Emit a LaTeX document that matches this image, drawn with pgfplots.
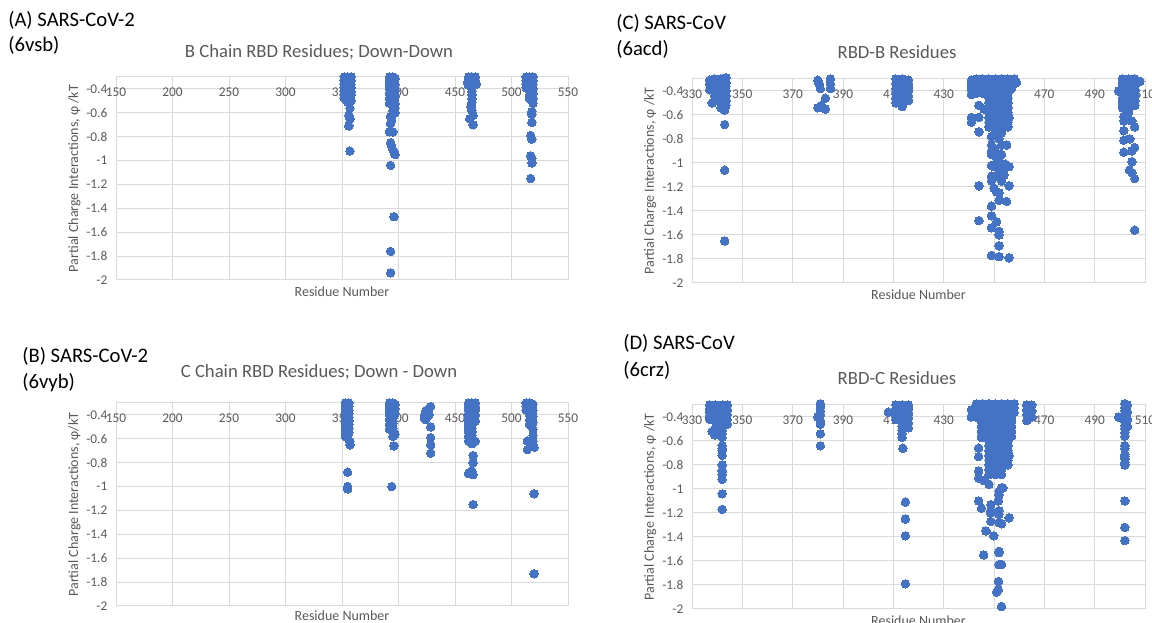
\documentclass[border=0pt]{standalone}
\usepackage{fontspec}
\setmainfont{Carlito}
\usepackage{pgfplots}
\pgfplotsset{compat=1.18}
\usepackage{pgfplotstable}
\definecolor{mblue}{HTML}{4472C4}
\definecolor{tgray}{HTML}{595959}
\definecolor{ggray}{HTML}{D9D9D9}

\pgfplotstableread[row sep=\\]{x y\\
352 -0.30\\352 -0.33\\352 -0.36\\352 -0.39\\352 -0.42\\352 -0.45\\352 -0.48\\
355 -0.30\\355 -0.33\\355 -0.36\\355 -0.39\\355 -0.42\\355 -0.45\\355 -0.48\\355 -0.51\\
358 -0.30\\358 -0.33\\358 -0.36\\358 -0.39\\358 -0.42\\358 -0.45\\358 -0.50\\
357 -0.56\\356 -0.62\\357 -0.65\\356 -0.71\\357 -0.92\\
392 -0.30\\392 -0.33\\392 -0.36\\392 -0.40\\392 -0.44\\392 -0.48\\392 -0.52\\
395 -0.30\\395 -0.34\\395 -0.38\\395 -0.42\\395 -0.46\\395 -0.50\\395 -0.54\\395 -0.58\\
397 -0.31\\397 -0.36\\397 -0.41\\397 -0.46\\397 -0.52\\397 -0.56\\397 -0.60\\
393 -0.63\\394 -0.66\\393 -0.69\\392 -0.76\\395 -0.76\\393 -0.85\\394 -0.88\\395 -0.91\\396 -0.93\\397 -0.95\\393 -1.04\\396 -1.47\\393 -1.76\\393 -1.94\\
461 -0.35\\462 -0.30\\462 -0.33\\462 -0.37\\
465 -0.30\\465 -0.33\\465 -0.36\\465 -0.39\\465 -0.42\\465 -0.45\\465 -0.48\\465 -0.51\\
468 -0.30\\468 -0.33\\469 -0.36\\
464 -0.55\\465 -0.58\\466 -0.62\\463 -0.65\\466 -0.70\\
513 -0.30\\513 -0.33\\513 -0.36\\513 -0.39\\
516 -0.30\\516 -0.33\\516 -0.36\\516 -0.39\\516 -0.42\\516 -0.45\\516 -0.48\\
519 -0.30\\519 -0.33\\519 -0.36\\519 -0.40\\519 -0.44\\519 -0.48\\519 -0.52\\
518 -0.59\\518 -0.61\\518 -0.68\\517 -0.79\\518 -0.82\\517 -0.96\\518 -0.98\\518 -1.02\\517 -1.15\\
}\dataA

\pgfplotstableread[row sep=\\]{x y\\
353 -0.30\\353 -0.33\\353 -0.36\\353 -0.39\\353 -0.42\\353 -0.45\\353 -0.48\\353 -0.51\\353 -0.55\\353 -0.58\\
356 -0.30\\356 -0.33\\356 -0.36\\356 -0.39\\356 -0.42\\356 -0.45\\356 -0.48\\356 -0.51\\356 -0.55\\
357 -0.62\\357 -0.65\\355 -0.88\\355 -1.00\\355 -1.02\\
392 -0.30\\392 -0.33\\392 -0.36\\392 -0.40\\392 -0.44\\392 -0.48\\392 -0.52\\
395 -0.30\\395 -0.33\\395 -0.36\\395 -0.39\\395 -0.43\\395 -0.47\\395 -0.51\\395 -0.55\\395 -0.58\\
397 -0.31\\397 -0.35\\397 -0.39\\397 -0.56\\
396 -0.66\\394 -1.00\\
423 -0.40\\424 -0.37\\425 -0.36\\426 -0.38\\423 -0.43\\425 -0.42\\427 -0.40\\424 -0.44\\
428.5 -0.33\\428.5 -0.50\\428.5 -0.59\\428.5 -0.65\\428.5 -0.72\\
462 -0.30\\462 -0.33\\462 -0.36\\462 -0.39\\462 -0.42\\462 -0.45\\462 -0.48\\462 -0.51\\462 -0.54\\462 -0.58\\462 -0.62\\
465 -0.30\\465 -0.33\\465 -0.36\\465 -0.39\\465 -0.42\\465 -0.45\\465 -0.48\\465 -0.51\\465 -0.54\\465 -0.57\\465 -0.60\\465 -0.64\\
468 -0.30\\468 -0.33\\468 -0.36\\468 -0.40\\468 -0.45\\468 -0.62\\
466 -0.74\\466 -0.80\\463 -0.88\\465 -0.87\\466 -0.90\\462 -0.89\\466 -1.15\\
513 -0.30\\513 -0.33\\513 -0.36\\
516 -0.30\\516 -0.33\\516 -0.36\\516 -0.40\\516 -0.44\\516 -0.48\\
519 -0.31\\519 -0.36\\519 -0.41\\519 -0.46\\519 -0.52\\519 -0.57\\519 -0.62\\519 -0.66\\
514 -0.62\\514 -0.69\\520 -0.67\\520 -1.06\\520 -1.73\\
}\dataB

\pgfplotstableread[row sep=\\]{x y\\
337 -0.31\\337 -0.34\\337 -0.39\\338 -0.50\\
339 -0.30\\339 -0.33\\339 -0.36\\339 -0.40\\339 -0.44\\
341.5 -0.30\\341.5 -0.33\\341.5 -0.36\\341.5 -0.39\\341.5 -0.42\\341.5 -0.45\\341.5 -0.48\\341.5 -0.51\\341.5 -0.54\\
343.5 -0.29\\343.5 -0.33\\343.5 -0.36\\343.5 -0.40\\343.5 -0.44\\343.5 -0.48\\343.5 -0.52\\343 -0.56\\
343 -0.68\\343 -1.06\\343 -1.65\\
380 -0.31\\381 -0.38\\380.5 -0.34\\385 -0.30\\385 -0.34\\385 -0.38\\383 -0.46\\380 -0.54\\381.4 -0.52\\383 -0.55\\
411 -0.30\\411 -0.34\\411 -0.38\\411 -0.42\\411 -0.46\\411 -0.50\\
413.5 -0.30\\413.5 -0.33\\413.5 -0.36\\413.5 -0.39\\413.5 -0.42\\413.5 -0.45\\413.5 -0.48\\413.5 -0.51\\413.5 -0.53\\
416 -0.31\\416 -0.34\\416 -0.37\\416 -0.40\\416 -0.44\\416 -0.48\\
443 -0.30\\445.5 -0.30\\448 -0.30\\450.5 -0.30\\453 -0.30\\455.5 -0.30\\458 -0.30\\
443 -0.34\\445.5 -0.34\\448 -0.34\\450.5 -0.34\\453 -0.34\\455.5 -0.34\\458 -0.34\\
443 -0.38\\445.5 -0.38\\448 -0.38\\450.5 -0.38\\453 -0.38\\455.5 -0.38\\457 -0.38\\
443 -0.42\\445.5 -0.42\\448 -0.42\\450.5 -0.42\\453 -0.42\\455.5 -0.42\\
448 -0.46\\450.5 -0.46\\453 -0.46\\455.5 -0.46\\
448 -0.50\\450.5 -0.50\\453 -0.50\\455.5 -0.50\\
448 -0.54\\450.5 -0.54\\453 -0.54\\455.5 -0.54\\
448 -0.58\\450.5 -0.58\\453 -0.58\\455.5 -0.58\\
448 -0.62\\450.5 -0.62\\453 -0.62\\456 -0.62\\
448 -0.66\\450.5 -0.66\\453 -0.66\\455.5 -0.66\\
448 -0.70\\450.5 -0.70\\453 -0.70\\455.5 -0.70\\
441 -0.31\\441 -0.35\\441 -0.39\\441 -0.43\\441 -0.62\\441 -0.66\\444 -0.52\\444 -0.62\\444 -0.74\\444 -1.19\\444 -1.48\\446 -0.55\\459 -0.33\\
449 -0.78\\449 -0.85\\449 -0.90\\449 -0.93\\452 -0.80\\453 -0.85\\455 -0.85\\451 -0.92\\452 -0.99\\449 -1.02\\450 -1.03\\453 -1.03\\454.5 -1.01\\456 -1.03\\
452 -1.06\\453.5 -1.06\\449 -1.11\\449 -1.15\\453 -1.15\\456 -1.19\\450 -1.21\\451 -1.24\\452 -1.25\\452 -1.31\\455 -1.32\\449 -1.36\\449 -1.44\\451 -1.49\\
449 -1.54\\452 -1.57\\452 -1.60\\452 -1.69\\449 -1.77\\452 -1.78\\456 -1.79\\451 -1.11\\454 -1.10\\451 -0.96\\450.5 -0.74\\453 -0.75\\450 -0.88\\453 -0.93\\
501 -0.30\\501 -0.34\\501 -0.38\\501 -0.42\\501 -0.46\\501 -0.50\\501 -0.54\\
503.5 -0.30\\503.5 -0.33\\503.5 -0.36\\503.5 -0.39\\503.5 -0.42\\503.5 -0.45\\503.5 -0.48\\503.5 -0.51\\503.5 -0.55\\503.5 -0.58\\
506 -0.30\\506 -0.33\\506 -0.36\\506 -0.40\\506 -0.44\\506 -0.48\\506 -0.52\\
508 -0.32\\499.5 -0.40\\
501.6 -0.61\\501.6 -0.65\\504.8 -0.65\\505.9 -0.70\\501.6 -0.73\\501.6 -0.81\\504 -0.80\\505.9 -0.87\\504.8 -0.90\\501.6 -0.91\\504.8 -0.99\\503.8 -1.06\\504.8 -1.08\\505.9 -1.13\\505.9 -1.56\\
}\dataC

\pgfplotstableread[row sep=\\]{x y\\
337 -0.30\\337 -0.33\\337 -0.36\\337 -0.39\\337 -0.42\\338 -0.52\\
339.5 -0.30\\339.5 -0.33\\339.5 -0.36\\339.5 -0.39\\339.5 -0.42\\339.5 -0.45\\339.5 -0.48\\339 -0.55\\
342 -0.30\\342 -0.33\\342 -0.36\\342 -0.39\\342 -0.42\\342 -0.45\\342 -0.48\\342 -0.51\\342 -0.54\\342 -0.57\\
344 -0.30\\344 -0.34\\344 -0.38\\344 -0.42\\344 -0.46\\
342 -0.64\\342 -0.66\\342 -0.68\\342 -0.72\\342 -0.80\\342 -0.85\\342 -0.88\\342 -0.92\\342 -1.04\\342 -1.17\\
381 -0.29\\381 -0.32\\381 -0.35\\381 -0.38\\380 -0.40\\381 -0.43\\381 -0.46\\381 -0.54\\381 -0.64\\
408 -0.36\\
411 -0.30\\411 -0.33\\411 -0.36\\411 -0.39\\411 -0.42\\
413.5 -0.30\\413.5 -0.33\\413.5 -0.36\\413.5 -0.39\\413.5 -0.42\\413.5 -0.45\\413.5 -0.48\\413.5 -0.51\\413.5 -0.54\\413.5 -0.57\\
416 -0.30\\416 -0.33\\416 -0.37\\416 -0.41\\416 -0.45\\416 -0.49\\
413.8 -0.66\\414.8 -1.11\\414.8 -1.25\\414.8 -1.39\\414.8 -1.79\\
443 -0.29\\445.5 -0.29\\448 -0.29\\450.5 -0.29\\453 -0.29\\455.5 -0.29\\458 -0.29\\
443 -0.32\\445.5 -0.32\\448 -0.32\\450.5 -0.32\\453 -0.32\\455.5 -0.32\\458 -0.32\\
443 -0.36\\445.5 -0.36\\448 -0.36\\450.5 -0.36\\453 -0.36\\455.5 -0.36\\458 -0.36\\
443 -0.40\\445.5 -0.40\\448 -0.40\\450.5 -0.40\\453 -0.40\\455.5 -0.40\\457 -0.40\\
445 -0.44\\447.5 -0.44\\450 -0.44\\452.5 -0.44\\455 -0.44\\457 -0.44\\
445 -0.48\\447.5 -0.48\\450 -0.48\\452.5 -0.48\\455 -0.48\\457 -0.48\\
445 -0.52\\447.5 -0.52\\450 -0.52\\452.5 -0.52\\455 -0.52\\457 -0.52\\
445 -0.56\\447.5 -0.56\\450 -0.56\\452.5 -0.56\\455 -0.56\\457 -0.56\\
448 -0.60\\450.5 -0.60\\453 -0.60\\455.5 -0.60\\
448 -0.64\\450.5 -0.64\\453 -0.64\\455.5 -0.64\\
448 -0.68\\450.5 -0.68\\453 -0.68\\455.5 -0.68\\
448 -0.72\\450.5 -0.72\\453 -0.72\\456 -0.72\\
448 -0.76\\450.5 -0.76\\453 -0.76\\455.5 -0.76\\
448 -0.80\\450.5 -0.80\\453 -0.80\\455.5 -0.80\\
448 -0.84\\450.5 -0.84\\453 -0.84\\
448 -0.88\\450.5 -0.88\\453 -0.88\\
441 -0.34\\441 -0.40\\443.9 -0.66\\443.9 -0.73\\443.9 -0.85\\443.9 -0.91\\445 -0.57\\446 -0.93\\448 -0.96\\443.9 -1.10\\445 -1.16\\446.8 -1.35\\445.9 -1.55\\
452.9 -0.99\\453.5 -0.99\\452 -1.05\\451.7 -1.10\\448.7 -1.13\\448.7 -1.18\\452 -1.18\\452 -1.21\\448.7 -1.27\\452 -1.28\\453 -1.29\\456 -1.24\\449.9 -1.39\\
452 -1.52\\452 -1.53\\452 -1.63\\453 -1.63\\451.8 -1.77\\451 -1.86\\451.7 -1.84\\453 -1.98\\448.7 -1.20\\452 -1.02\\
463 -0.30\\465 -0.30\\463 -0.34\\465 -0.35\\463 -0.38\\465 -0.40\\463 -0.43\\
502 -0.29\\502 -0.32\\502 -0.35\\502 -0.38\\502 -0.41\\502 -0.44\\502 -0.47\\502 -0.50\\502 -0.53\\502 -0.56\\
503 -0.30\\503 -0.36\\503 -0.42\\503 -0.48\\499.5 -0.40\\501 -0.41\\
502 -0.64\\502 -0.66\\502 -0.71\\502 -0.73\\502 -0.75\\502 -0.78\\502 -0.80\\502 -1.10\\502 -1.32\\502 -1.43\\
}\dataD

\pgfplotsset{
 rbd/.style={
  scale only axis,
  ymin=-2, ymax=-0.3,
  ytick={-2,-1.8,-1.6,-1.4,-1.2,-1,-0.8,-0.6,-0.4},
  grid=major,
  grid style={ggray, line width=0.75pt},
  axis line style={ggray, line width=0.75pt},
  major tick length=0pt,
  xticklabel pos=upper,
  xticklabel style={anchor=center, yshift=-11.25pt, font=\fontsize{10}{11}\selectfont, text=tgray},
  yticklabel style={font=\fontsize{10}{11}\selectfont, text=tgray, xshift=-3pt},
  /pgf/number format/assume math mode=true,
  /pgf/number format/fixed,
  /pgf/number format/precision=1,
  xlabel style={at={(axis description cs:0.5,0)}, anchor=center, yshift=-9pt, font=\fontsize{10.5}{12}\selectfont, text=tgray},
  ylabel style={at={(axis description cs:-0.092,0.5)}, anchor=center, font=\fontsize{10.5}{12}\selectfont, text=tgray},
  clip=false,
  xlabel={Residue Number},
 },
 dots/.style={only marks, mark=*, mark size=3.2pt, mark options={fill=mblue, draw=mblue, line width=0pt}},
}

\begin{document}
\begin{tikzpicture}[x=0.75pt,y=0.75pt]
% Panel A
\begin{axis}[rbd, at={(87pt,409.5pt)}, anchor=north west, width=339pt, height=152.25pt,
  xmin=150, xmax=550, xtick={150,200,250,300,350,400,450,500,550},
  ylabel={Partial Charge Interactions, φ /kT}]
\addplot[dots] table {\dataA};
\end{axis}
% Panel B
\begin{axis}[rbd, at={(87pt,165pt)}, anchor=north west, width=339pt, height=152.25pt,
  xmin=150, xmax=550, xtick={150,200,250,300,350,400,450,500,550},
  xlabel style={yshift=1.5pt},
  ylabel={Partial Charge Interactions, φ/kT}]
\addplot[dots] table {\dataB};
\end{axis}
% Panel C
\begin{axis}[rbd, at={(519pt,408pt)}, anchor=north west, width=339.75pt, height=153pt,
  xmin=330, xmax=510, xtick={330,350,370,390,410,430,450,470,490,510},
  ylabel={Partial Charge Interactions, φ /kT}]
\addplot[dots] table {\dataC};
\end{axis}
% Panel D
\begin{axis}[rbd, at={(519pt,163.5pt)}, anchor=north west, width=339.75pt, height=153pt,
  xmin=330, xmax=510, xtick={330,350,370,390,410,430,450,470,490,510},
  ylabel={Partial Charge Interactions, φ /kT}]
\addplot[dots] table {\dataD};
\end{axis}

% Titles
\node[font=\fontsize{14}{16}\selectfont, text=tgray] at (319,571) {B Chain RBD Residues; Down-Down};
\node[font=\fontsize{14}{16}\selectfont, text=tgray] at (319,251) {C Chain RBD Residues; Down - Down};
\node[font=\fontsize{14}{16}\selectfont, text=tgray] at (897,571) {RBD-B Residues};
\node[font=\fontsize{14}{16}\selectfont, text=tgray] at (897,245) {RBD-C Residues};

% Panel labels
\node[anchor=west, inner sep=0pt, font=\fontsize{15.5}{18}\selectfont] at (8,603) {(A) SARS-CoV-2};
\node[anchor=west, inner sep=0pt, font=\fontsize{15.5}{18}\selectfont] at (8,578) {(6vsb)};
\node[anchor=west, inner sep=0pt, font=\fontsize{15.5}{18}\selectfont] at (22,267) {(B) SARS-CoV-2};
\node[anchor=west, inner sep=0pt, font=\fontsize{15.5}{18}\selectfont] at (22,240) {(6vyb)};
\node[anchor=west, inner sep=0pt, font=\fontsize{15.5}{18}\selectfont] at (616,600) {(C) SARS-CoV};
\node[anchor=west, inner sep=0pt, font=\fontsize{15.5}{18}\selectfont] at (616,574) {(6acd)};
\node[anchor=west, inner sep=0pt, font=\fontsize{15.5}{18}\selectfont] at (623,280) {(D) SARS-CoV};
\node[anchor=west, inner sep=0pt, font=\fontsize{15.5}{18}\selectfont] at (623,253) {(6crz)};

\pgfresetboundingbox
\useasboundingbox (0,0) rectangle (1152,623);
\end{tikzpicture}
\end{document}
